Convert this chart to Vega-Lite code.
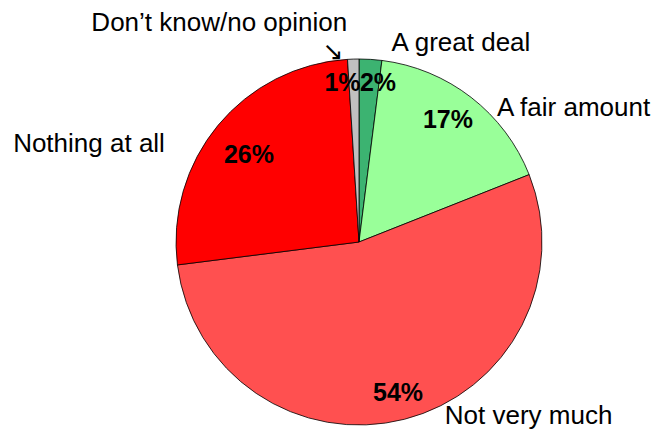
{
  "$schema": "https://vega.github.io/schema/vega-lite/v6.json",
  "autosize": {"type": "none"},
  "width": 588,
  "height": 382,
  "padding": {"left": 65, "top": 51, "right": 0, "bottom": 0},
  "background": "white",
  "view": {"stroke": null},
  "data": {
    "values": [
      {"idx": 1, "cat": "A great deal", "value": 2, "label": "2%"},
      {"idx": 2, "cat": "A fair amount", "value": 17, "label": "17%"},
      {"idx": 3, "cat": "Not very much", "value": 54, "label": "54%"},
      {"idx": 4, "cat": "Nothing at all", "value": 26, "label": "26%"},
      {"idx": 5, "cat": "Don’t know/no opinion", "value": 1, "label": "1%"}
    ]
  },
  "encoding": {
    "theta": {"field": "value", "type": "quantitative", "stack": true},
    "order": {"field": "idx", "type": "quantitative"}
  },
  "layer": [
    {
      "mark": {"type": "arc", "outerRadius": 183, "stroke": "#000000", "strokeWidth": 0.8},
      "encoding": {
        "color": {
          "field": "cat",
          "type": "nominal",
          "scale": {
            "domain": ["A great deal", "A fair amount", "Not very much", "Nothing at all", "Don’t know/no opinion"],
            "range": ["#3cb371", "#99ff99", "#ff5050", "#ff0000", "#c0c0c0"]
          },
          "legend": null
        }
      }
    },
    {
      "mark": {
        "type": "text",
        "radius": 150,
        "font": "Liberation Sans",
        "fontSize": 25,
        "fontWeight": "bold",
        "color": "#000000",
        "align": "center",
        "baseline": "middle",
        "dx": {"expr": "datum.idx == 1 ? 9.6 : datum.idx == 2 ? -3 : datum.idx == 3 ? 1.7 : datum.idx == 4 ? 5.5 : -11.8"},
        "dy": {"expr": "datum.idx == 1 ? -8.8 : datum.idx == 2 ? -3.5 : datum.idx == 3 ? 5.6 : datum.idx == 4 ? 8.5 : -8.8"}
      },
      "encoding": {"text": {"field": "label", "type": "nominal"}}
    },
    {
      "mark": {
        "type": "text",
        "radius": 200,
        "font": "Liberation Sans",
        "fontSize": 26,
        "color": "#000000",
        "align": {"expr": "datum.idx >= 4 ? 'right' : 'left'"},
        "baseline": "alphabetic",
        "dx": {"expr": "datum.idx == 1 ? 20 : datum.idx == 2 ? 15.4 : datum.idx == 3 ? 36 : datum.idx == 4 ? -40 : -5.5"},
        "dy": {"expr": "datum.idx == 1 ? 9 : datum.idx == 2 ? 32 : datum.idx == 3 ? -12 : datum.idx == 4 ? 37.7 : -10.8"}
      },
      "encoding": {"text": {"field": "cat", "type": "nominal"}}
    },
    {
      "mark": {
        "type": "text",
        "radius": 200,
        "font": "DejaVu Sans",
        "fontSize": 25,
        "color": "#000000",
        "align": "center",
        "baseline": "middle",
        "dx": -20,
        "dy": 10
      },
      "encoding": {
        "text": {"condition": {"test": "datum.idx == 5", "value": "↘"}, "value": ""}
      }
    }
  ]
}
